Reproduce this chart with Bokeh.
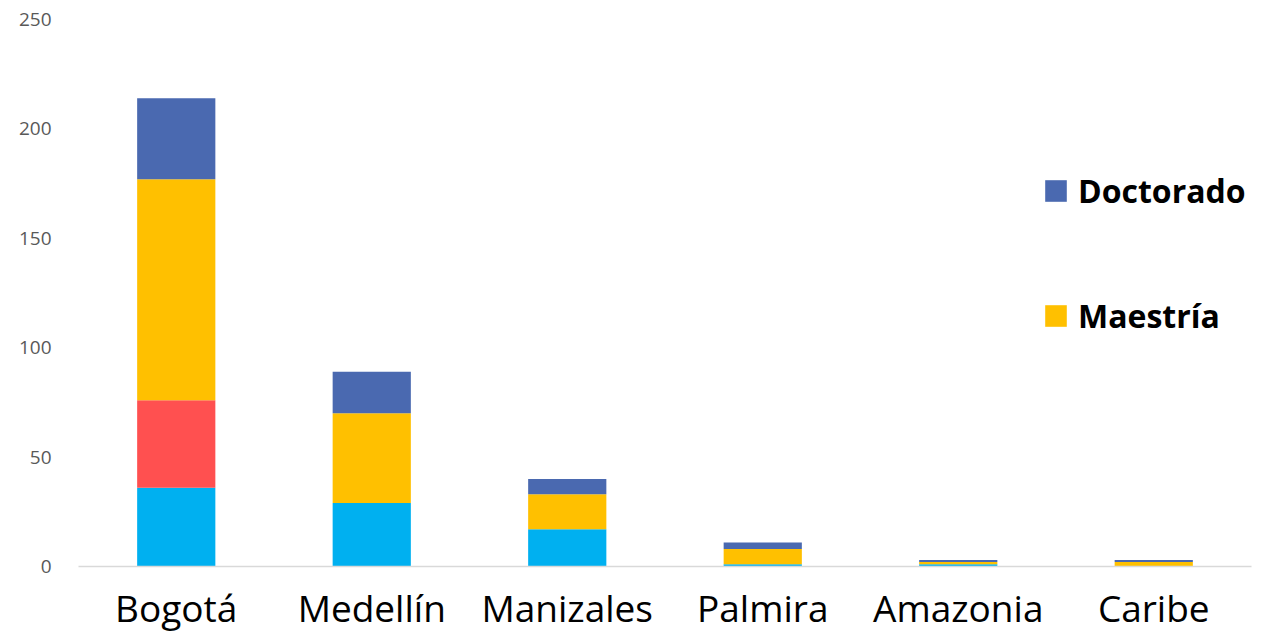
from bokeh.plotting import figure
from bokeh.models import ColumnDataSource, Legend, LegendItem, FactorRange, Range1d
from bokeh.embed import file_html
from bokeh.resources import INLINE

sedes = ["Bogotá", "Medellín", "Manizales", "Palmira", "Amazonia", "Caribe"]
especializacion = [36, 29, 17, 1, 1, 0]
otros = [40, 0, 0, 0, 0, 0]
maestria = [101, 41, 16, 7, 1, 2]
doctorado = [37, 19, 7, 3, 1, 1]
series = ["especializacion", "otros", "maestria", "doctorado"]
colors = ["#00B0F0", "#FF5050", "#FFC000", "#4A69B0"]

src = ColumnDataSource(dict(sede=sedes, especializacion=especializacion,
                            otros=otros, maestria=maestria, doctorado=doctorado))

p = figure(x_range=FactorRange(*sedes, range_padding=0), y_range=Range1d(0, 250),
           width=1271, height=635, output_backend="svg", toolbar_location=None,
           min_border_left=78, min_border_right=20, min_border_top=19, min_border_bottom=69)
p.outline_line_color = None
p.xgrid.grid_line_color = None
p.ygrid.grid_line_color = None

rs = p.vbar_stack(series, x="sede", width=0.4, color=colors, source=src, line_color=None)

p.yaxis.axis_line_color = None
p.yaxis.major_tick_line_color = None
p.yaxis.minor_tick_line_color = None
p.yaxis.major_label_text_font = "Open Sans"
p.yaxis.major_label_text_font_size = "19px"
p.yaxis.major_label_text_color = "#595959"
p.yaxis.major_label_standoff = 21
p.yaxis.ticker = [0, 50, 100, 150, 200, 250]

p.xaxis.axis_line_color = "#D9D9D9"
p.xaxis.axis_line_width = 1.5
p.xaxis.major_tick_line_color = None
p.xaxis.minor_tick_line_color = None
p.xaxis.major_tick_out = 0
p.xaxis.major_label_text_font = "Open Sans"
p.xaxis.major_label_text_font_size = "37px"
p.xaxis.major_label_text_line_height = 0.8
p.xaxis.major_label_text_color = "#000000"
p.xaxis.major_label_standoff = 15

legend = Legend(items=[LegendItem(label="Doctorado", renderers=[rs[3]]),
                       LegendItem(label="Maestría", renderers=[rs[2]])],
                location=(964, 229))
legend.label_text_font = "Open Sans"
legend.label_text_font_style = "bold"
legend.label_text_font_size = "32px"
legend.label_text_color = "#000000"
legend.glyph_width = 27
legend.glyph_height = 27
legend.label_height = 40
legend.label_standoff = 9
legend.spacing = 82
legend.padding = 0
legend.margin = 0
legend.border_line_color = None
legend.background_fill_alpha = 0
p.add_layout(legend, "center")

open("out.html", "w").write(file_html(p, INLINE))
